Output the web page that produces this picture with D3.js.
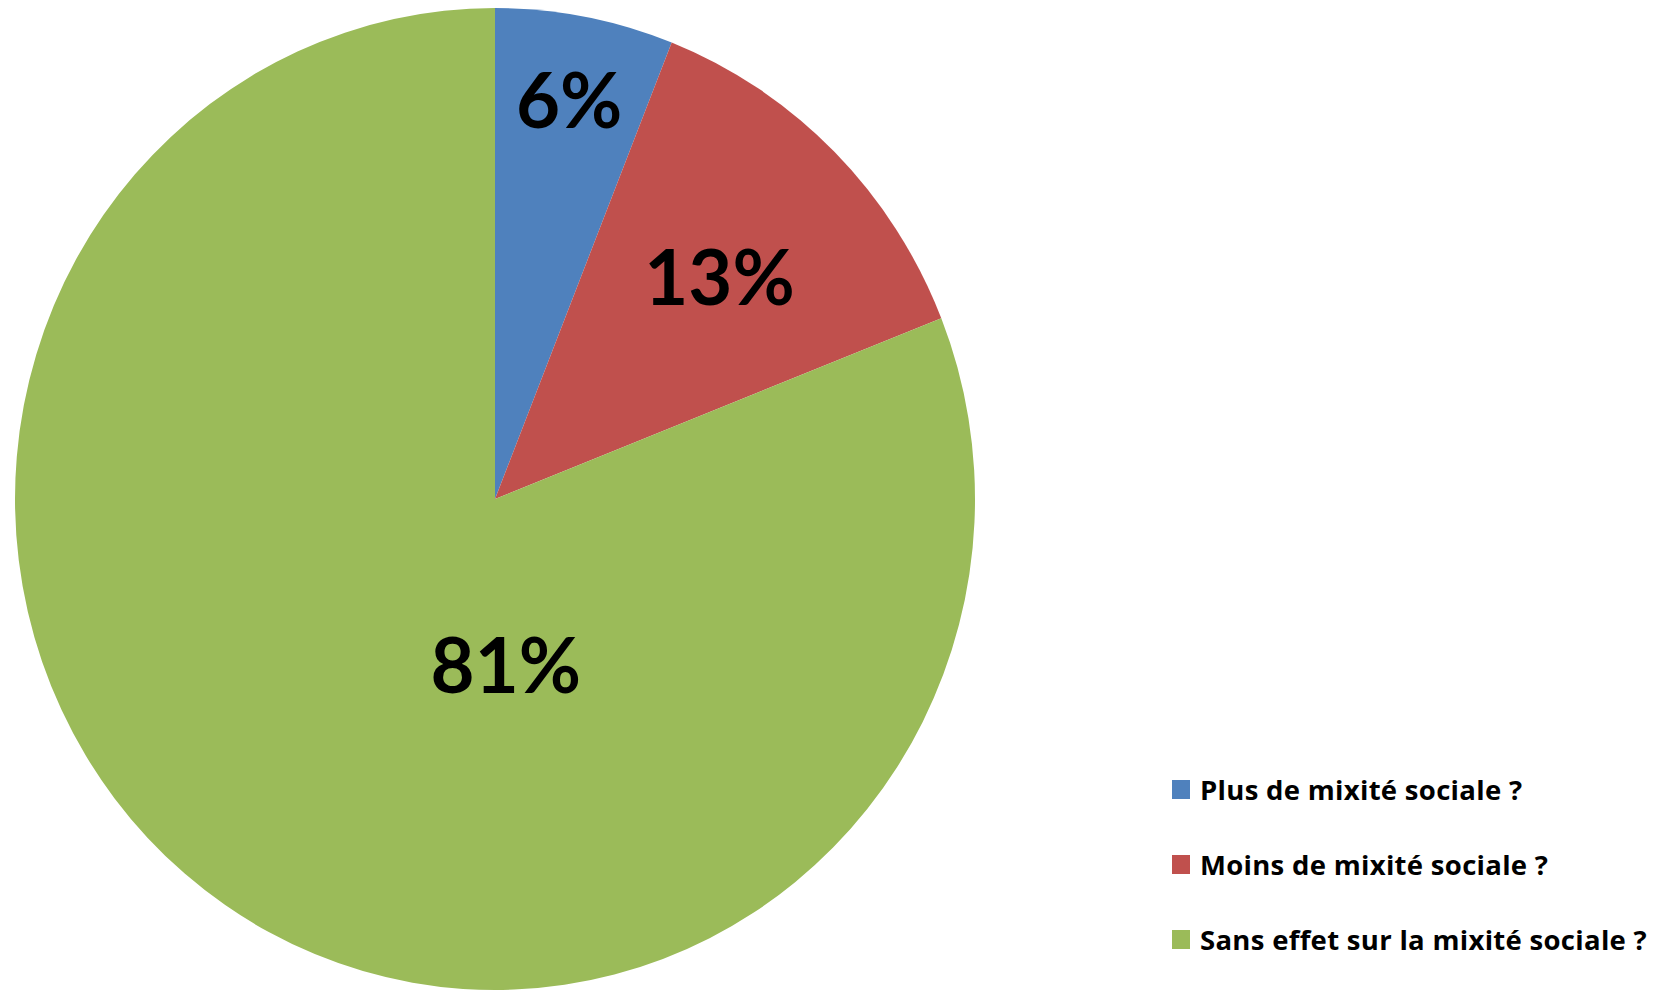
<!DOCTYPE html>
<html lang='fr'>
  <head>
    <meta charset='utf-8'>
    <title>Mixité sociale</title>
    <script src="https://d3js.org/d3.v7.min.js" charset='utf-8'></script>
    <style type="text/css">
      body { margin: 0; background: #fff; }
      svg { display: block; }
      text { font-weight: bold; fill: #000; }
      .label { font-family: Lato, sans-serif; font-size: 76px; text-anchor: middle; }
      .legend text { font-family: 'Open Sans', Lato, sans-serif; font-size: 27.5px; letter-spacing: 0.3px; }
    </style>
  </head>
  <body>
    <script type="text/javascript">
      var width = 1661, height = 992;
      var categories = ['Plus de mixité sociale ?', 'Moins de mixité sociale ?', 'Sans effet sur la mixité sociale ?'];
      var values = [6, 13, 81];
      var colors = ['#4F81BD', '#C0504D', '#9BBB59'];

      // the original pie is a little taller than wide
      var cx = 495, cy = 499, rx = 480, ry = 491;

      var svg = d3.select('body').append('svg')
        .attr('width', width)
        .attr('height', height);

      var pie = d3.pie().sort(null).value(function(d) { return d; });
      var arc = d3.arc().innerRadius(0).outerRadius(rx);
      var arcs = pie(values);

      svg.append('g')
        .attr('transform', 'translate(' + cx + ',' + cy + ') scale(1,' + (ry / rx) + ')')
        .selectAll('path')
        .data(arcs)
        .enter().append('path')
        .attr('d', arc)
        .attr('fill', function(d, i) { return colors[i]; });

      // label placement: angle shift from the slice middle (degrees) and radius fraction
      var labelShift = [0, 1, -38];
      var labelRadius = [0.825, 0.65, 0.34];
      svg.append('g')
        .attr('transform', 'translate(' + cx + ',' + cy + ')')
        .selectAll('text.label')
        .data(arcs)
        .enter().append('text')
        .attr('class', 'label')
        .attr('transform', function(d, i) {
          var a = (d.startAngle + d.endAngle) / 2 + labelShift[i] * Math.PI / 180;
          var r = labelRadius[i];
          return 'translate(' + (Math.sin(a) * r * rx) + ',' + (-Math.cos(a) * r * ry) + ')';
        })
        .attr('dy', '0.36em')
        .text(function(d) { return d.value + '%'; });

      // legend
      var legend = svg.append('g').attr('class', 'legend')
        .attr('transform', 'translate(1172,790)');
      var row = legend.selectAll('g')
        .data(categories)
        .enter().append('g')
        .attr('transform', function(d, i) { return 'translate(0,' + (i * 75) + ')'; });
      row.append('rect')
        .attr('x', 0).attr('y', -10)
        .attr('width', 18).attr('height', 19)
        .attr('fill', function(d, i) { return colors[i]; });
      row.append('text')
        .attr('x', 28)
        .attr('dy', '0.36em')
        .text(function(d) { return d; });
    </script>
  </body>
</html>
